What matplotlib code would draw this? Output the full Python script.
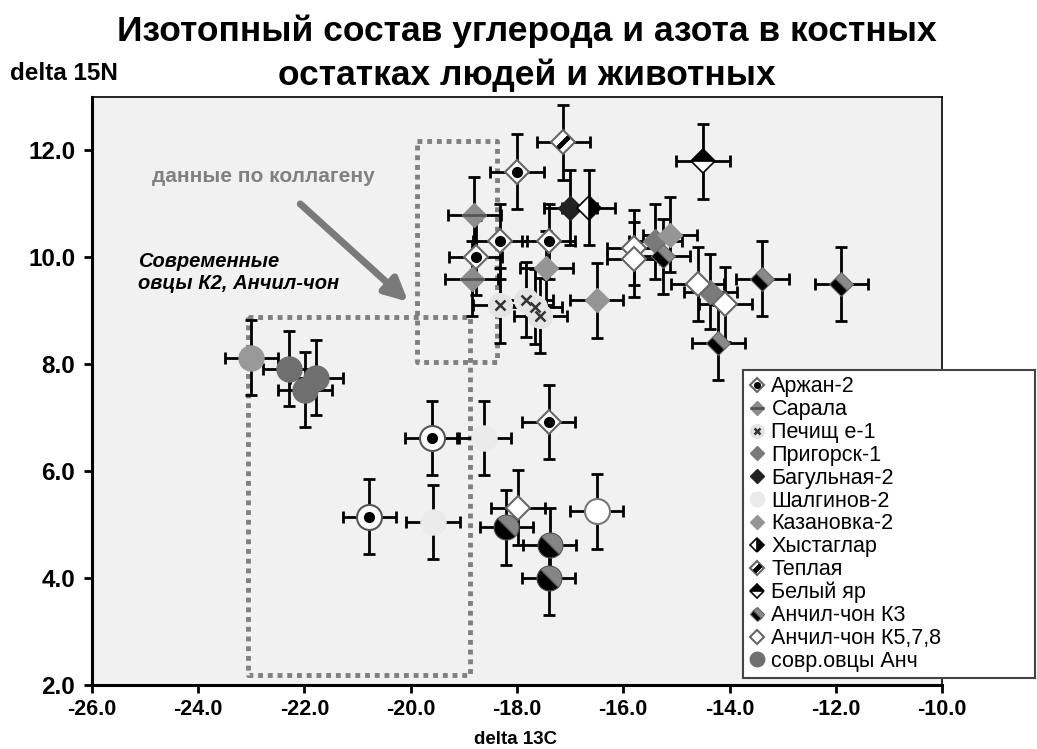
import matplotlib.pyplot as plt
from matplotlib.markers import MarkerStyle
from matplotlib.transforms import Affine2D

plt.rcParams['font.family'] = ['Liberation Sans', 'DejaVu Sans']

# delta 13C / delta 15N per site
arzhan_x = [-18.0, -18.32, -18.78, -17.4, -17.4]
arzhan_y = [11.6, 10.3, 10.0, 10.3, 6.92]
sarala_x = [-18.8, -18.85]
sarala_y = [10.8, 9.6]
pechishche_x = [-18.32, -17.83, -17.66, -17.56]
pechishche_y = [9.1, 9.21, 9.08, 8.91]
prigorsk_x = [-15.4, -14.36]
prigorsk_y = [10.3, 9.36]
bagulnaya_x = [-17.0]
bagulnaya_y = [10.93]
shalginov_x = [-18.62, -19.58]
shalginov_y = [6.62, 5.05]
kazanovka_x = [-17.45, -16.5, -15.12]
kazanovka_y = [9.8, 9.2, 10.42]
khystaglar_x = [-16.65]
khystaglar_y = [10.93]
teplaya_x = [-17.13]
teplaya_y = [12.15]
belyi_yar_x = [-14.5]
belyi_yar_y = [11.8]
anchil_k3_x = [-15.25, -13.38, -11.9, -14.21]
anchil_k3_y = [10.02, 9.6, 9.5, 8.4]
anchil_k578_x = [-15.8, -15.8, -14.6, -14.08, -17.98]
anchil_k578_y = [10.18, 9.96, 9.5, 9.12, 5.32]
sheep_x = [-22.29, -21.99, -21.78]
sheep_y = [7.92, 7.52, 7.75]

# series shown without a legend entry
ring_dot_x = [-19.6, -20.78]
ring_dot_y = [6.62, 5.15]
white_circ_x = [-16.5]
white_circ_y = [5.25]
split_circ_x = [-18.2, -17.38, -17.4]
split_circ_y = [4.95, 4.62, 4.0]
grey_circ_x = [-23.0]
grey_circ_y = [8.12]

x_err = 0.5
y_err = 0.7

x_ticks = [-26, -24, -22, -20, -18, -16, -14, -12, -10]
y_ticks = [2, 4, 6, 8, 10, 12]

fig = plt.figure(figsize=(10.37, 7.49), dpi=100)
ax = fig.add_axes([0.0887, 0.0855, 0.8197, 0.785])
ax.set_facecolor('#f1f1f1')

all_x = (arzhan_x + sarala_x + pechishche_x + prigorsk_x + bagulnaya_x + shalginov_x
         + kazanovka_x + khystaglar_x + teplaya_x + belyi_yar_x + anchil_k3_x
         + anchil_k578_x + sheep_x + ring_dot_x + white_circ_x + split_circ_x + grey_circ_x)
all_y = (arzhan_y + sarala_y + pechishche_y + prigorsk_y + bagulnaya_y + shalginov_y
         + kazanovka_y + khystaglar_y + teplaya_y + belyi_yar_y + anchil_k3_y
         + anchil_k578_y + sheep_y + ring_dot_y + white_circ_y + split_circ_y + grey_circ_y)
ax.errorbar(all_x, all_y, xerr=x_err, yerr=y_err, fmt='none', ecolor='black',
            elinewidth=2, capsize=4, capthick=2, zorder=2)

# dotted frames around the collagen groups
box_a_x = [-19.88, -18.37, -18.37, -19.88, -19.88]
box_a_y = [12.17, 12.17, 8.05, 8.05, 12.17]
box_b_x = [-23.06, -18.88, -18.88, -23.06, -23.06]
box_b_y = [8.89, 8.89, 2.19, 2.19, 8.89]
for bx, by in [(box_a_x, box_a_y), (box_b_x, box_b_y)]:
    ax.plot(bx, by, color='#808080', lw=3.5, linestyle=(0, (1, 1)),
            dash_capstyle='butt', zorder=1.5)

diag = Affine2D().rotate_deg(45)
k3_marker = MarkerStyle('s', fillstyle='left', transform=diag)
split_o = MarkerStyle('o', fillstyle='left', transform=diag)

D = 12.5   # diamond size
O = 18     # circle size
kw = dict(linestyle='none', zorder=3)

h_arzhan = ax.plot(arzhan_x, arzhan_y, marker='D', ms=D, mfc='white', mec='#666666', mew=1.5, **kw)[0]
h_arzhan_dot = ax.plot(arzhan_x, arzhan_y, marker='o', ms=7, mfc='black', mec='black', **kw)[0]
h_sarala = ax.plot(sarala_x, sarala_y, marker='D', ms=D, mfc='#8c8c8c', mec='#8c8c8c', **kw)[0]
h_sarala_bar = ax.plot(sarala_x, sarala_y, marker='_', ms=D * 1.4, mec='#555555', mew=2, **kw)[0]
h_pech = ax.plot(pechishche_x, pechishche_y, marker='o', ms=17, mfc='#e4e4e4', mec='#e4e4e4', **kw)[0]
h_pech_x = ax.plot(pechishche_x, pechishche_y, marker='x', ms=7, mec='#333333', mew=1.8, **kw)[0]
h_prig = ax.plot(prigorsk_x, prigorsk_y, marker='D', ms=D, mfc='#7a7a7a', mec='#7a7a7a', **kw)[0]
h_bag = ax.plot(bagulnaya_x, bagulnaya_y, marker='D', ms=D, mfc='#222222', mec='#222222', **kw)[0]
h_shal = ax.plot(shalginov_x, shalginov_y, marker='o', ms=O, mfc='#ebebeb', mec='#ebebeb', **kw)[0]
h_kaz = ax.plot(kazanovka_x, kazanovka_y, marker='D', ms=D, mfc='#959595', mec='#959595', **kw)[0]
h_khys = ax.plot(khystaglar_x, khystaglar_y, marker='D', ms=D, fillstyle='right', mfc='black',
                 mfcalt='white', mec='black', mew=1.2, **kw)[0]
h_tep = ax.plot(teplaya_x, teplaya_y, marker='D', ms=D, mfc='white', mec='#666666', mew=1.5, **kw)[0]
h_tep_bar = ax.plot(teplaya_x, teplaya_y, marker=(2, 2, -45), ms=11, mec='black', mew=3, **kw)[0]
h_bel = ax.plot(belyi_yar_x, belyi_yar_y, marker='D', ms=D, fillstyle='top', mfc='black',
                mfcalt='white', mec='black', mew=1.2, **kw)[0]
h_k3 = ax.plot(anchil_k3_x, anchil_k3_y, marker=k3_marker, ms=D, mfc='black',
               mfcalt='#8a8a8a', mec='#666666', mew=0.8, **kw)[0]
h_k578 = ax.plot(anchil_k578_x, anchil_k578_y, marker='D', ms=D, mfc='white', mec='#666666', mew=1.5, **kw)[0]
h_sheep = ax.plot(sheep_x, sheep_y, marker='o', ms=O, mfc='#6f6f6f', mec='#6f6f6f', **kw)[0]

ax.plot(ring_dot_x, ring_dot_y, marker='o', ms=O, mfc='white', mec='#555555', mew=1.5, **kw)
ax.plot(ring_dot_x, ring_dot_y, marker='o', ms=7, mfc='black', mec='black', **kw)
ax.plot(white_circ_x, white_circ_y, marker='o', ms=O, mfc='white', mec='#777777', mew=1.5, **kw)
ax.plot(split_circ_x, split_circ_y, marker=split_o, ms=O, mfc='black', mfcalt='#858585',
        mec='#555555', mew=0.8, **kw)
ax.plot(grey_circ_x, grey_circ_y, marker='o', ms=O, mfc='#999999', mec='#999999', **kw)

# notes
ax.text(-24.87, 11.51, 'данные по коллагену', color='#808080', fontsize=15,
        fontweight='bold', ha='left', va='center')
ax.text(-25.13, 9.71, 'Современные\nовцы К2, Анчил-чон', color='black', fontsize=14.5,
        fontweight='bold', style='italic', ha='left', va='center', linespacing=1.2)
ax.annotate('', xy=(-20.05, 9.17), xytext=(-22.08, 11.0),
            arrowprops=dict(arrowstyle='-|>', color='#7a7a7a', lw=5, mutation_scale=34,
                            shrinkA=0, shrinkB=0))

ax.set_xlim(-26, -10)
ax.set_ylim(2, 13)
ax.set_xticks(x_ticks)
ax.set_yticks(y_ticks)
ax.set_xticklabels([f'{t:.1f}' for t in x_ticks], fontsize=15.5, fontweight='bold')
ax.set_yticklabels([f'{t:.1f}' for t in y_ticks], fontsize=17.5, fontweight='bold')
ax.tick_params(direction='out', length=6, width=2, pad=4)
ax.tick_params(axis='y', pad=6)
for side in ['left', 'bottom']:
    ax.spines[side].set_linewidth(2.2)
for side in ['top', 'right']:
    ax.spines[side].set_linewidth(1.2)

fig.text(0.508, 1 - 53 / 749, 'Изотопный состав углерода и азота в костных\nостатках людей и животных',
         ha='center', va='center', fontsize=25.5, fontweight='bold', linespacing=1.4)
fig.text(10 / 1037, 1 - 73 / 749, 'delta 15N', ha='left', va='center', fontsize=17.5, fontweight='bold')
fig.text(516 / 1037, 1 - 740 / 749, 'delta 13C', ha='center', va='center', fontsize=13.5, fontweight='bold')

handles = [(h_arzhan, h_arzhan_dot), (h_sarala, h_sarala_bar), (h_pech, h_pech_x), h_prig, h_bag,
           h_shal, h_kaz, h_khys, (h_tep, h_tep_bar), h_bel, h_k3, h_k578, h_sheep]
labels = ['Аржан-2', 'Сарала', 'Печищ е-1', 'Пригорск-1', 'Багульная-2', 'Шалгинов-2',
          'Казановка-2', 'Хыстаглар', 'Теплая', 'Белый яр', 'Анчил-чон К3',
          'Анчил-чон К5,7,8', 'совр.овцы Анч']
leg = fig.legend(handles, labels, loc='upper left',
                 bbox_to_anchor=(743 / 1037, 74 / 749, 292 / 1037, 305 / 749),
                 mode='expand', fontsize=15.5, markerscale=0.58, handlelength=0.7,
                 handletextpad=0.32, labelspacing=0.085, borderpad=0.3, borderaxespad=0,
                 fancybox=False, framealpha=1, edgecolor='#444444')
leg.get_frame().set_linewidth(1.5)

fig.savefig('out.png', dpi=100)
